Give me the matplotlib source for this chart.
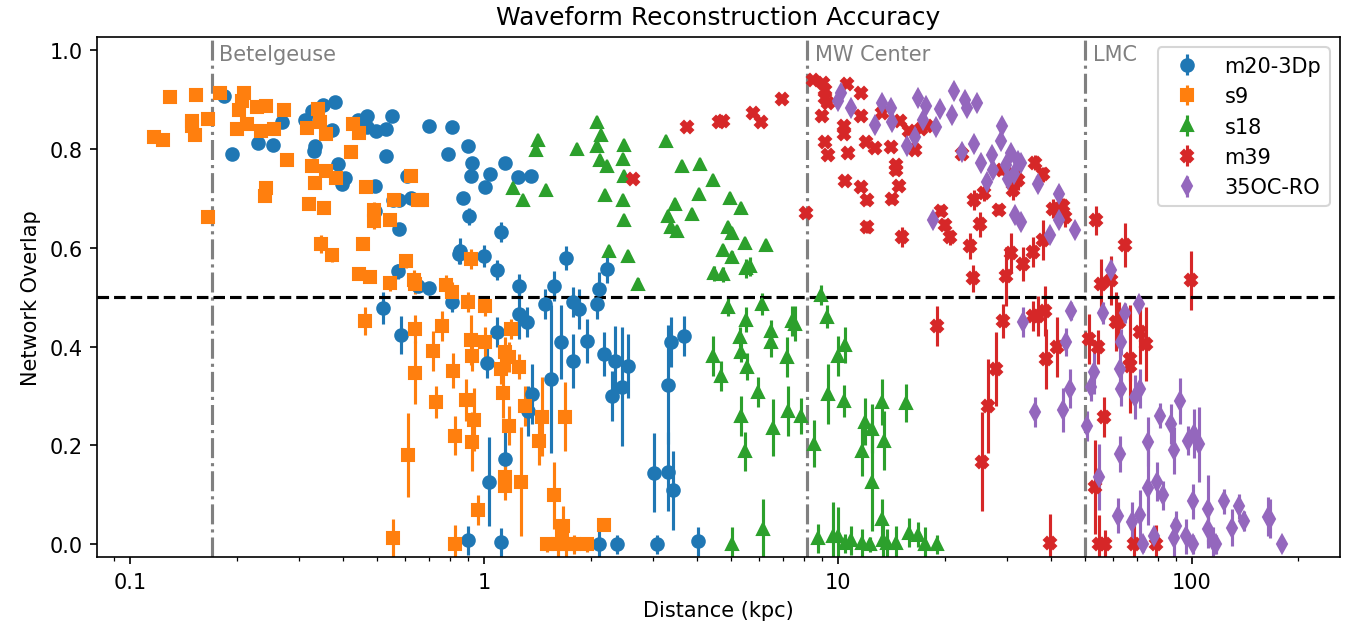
import matplotlib
matplotlib.use("Agg")
import matplotlib.pyplot as plt
from matplotlib import ticker

# m20-3Dp
m20_dist = [0.184, 0.194, 0.230, 0.253, 0.268, 0.313, 0.326, 0.352, 0.380, 0.373,
            0.334, 0.330, 0.388, 0.406, 0.398, 0.493, 0.442, 0.468, 0.466, 0.496,
            0.529, 0.551, 0.529, 0.607, 0.623, 0.493, 0.555, 0.574, 0.574, 0.570,
            0.519, 0.584,
            0.70, 0.813, 0.79, 0.90, 0.925, 0.92, 1.04, 1.01, 1.15, 1.25,
            1.36, 0.873, 0.91, 1.12, 0.856, 0.85, 1.0, 1.09, 1.70, 2.22,
            1.26, 1.58, 2.11, 0.70, 0.65,
            0.81, 1.26, 1.32, 1.49, 1.78, 1.86, 2.09, 1.09, 1.65, 1.95,
            1.78, 1.02, 2.18, 2.34, 2.56, 1.55, 1.37, 1.33, 2.30, 2.46,
            3.30, 1.15, 1.03, 3.03, 3.32, 3.41, 0.90, 1.12, 2.12, 2.37,
            3.09, 4.03, 3.68, 3.38]
m20_overlap = [0.907, 0.790, 0.812, 0.808, 0.853, 0.857, 0.877, 0.889, 0.895, 0.837,
               0.806, 0.796, 0.770, 0.740, 0.728, 0.724, 0.859, 0.867, 0.843, 0.835,
               0.839, 0.867, 0.786, 0.744, 0.700, 0.675, 0.696, 0.696, 0.637, 0.552,
               0.478, 0.423,
               0.845, 0.843, 0.790, 0.806, 0.772, 0.744, 0.748, 0.722, 0.772, 0.742,
               0.744, 0.700, 0.663, 0.631, 0.593, 0.587, 0.583, 0.554, 0.579, 0.556,
               0.522, 0.522, 0.516, 0.518, 0.522,
               0.490, 0.466, 0.450, 0.486, 0.490, 0.476, 0.486, 0.429, 0.409, 0.411,
               0.371, 0.367, 0.385, 0.371, 0.361, 0.335, 0.304, 0.270, 0.300, 0.319,
               0.323, 0.173, 0.127, 0.145, 0.147, 0.109, 0.008, 0.004, 0.0, 0.0,
               0.0, 0.006, 0.421, 0.409]
m20_err = [0.005, 0.005, 0.005, 0.005, 0.005, 0.005, 0.005, 0.005, 0.005, 0.005,
           0.005, 0.005, 0.005, 0.005, 0.005, 0.005, 0.005, 0.005, 0.005, 0.005,
           0.005, 0.005, 0.005, 0.005, 0.008, 0.01, 0.01, 0.01, 0.012, 0.015,
           0.032, 0.039,
           0.005, 0.005, 0.005, 0.005, 0.005, 0.005, 0.005, 0.005, 0.005, 0.005,
           0.005, 0.012, 0.017, 0.02, 0.027, 0.02, 0.022, 0.02, 0.024, 0.027,
           0.025, 0.03, 0.035, 0.01, 0.01,
           0.02, 0.05, 0.03, 0.03, 0.03, 0.04, 0.03, 0.03, 0.075, 0.045,
           0.055, 0.03, 0.045, 0.07, 0.065, 0.15, 0.06, 0.05, 0.05, 0.12,
           0.12, 0.06, 0.09, 0.08, 0.08, 0.08, 0.03, 0.03, 0.03, 0.02,
           0.02, 0.03, 0.04, 0.05]

# s9
s9_dist = [0.117, 0.124, 0.130, 0.150, 0.150, 0.153, 0.154, 0.166, 0.166, 0.180,
           0.210, 0.207, 0.203, 0.214, 0.200, 0.228, 0.243, 0.234, 0.256, 0.273,
           0.278, 0.243, 0.240, 0.317, 0.339, 0.345, 0.357, 0.326, 0.359, 0.383,
           0.334, 0.321, 0.354, 0.421, 0.427, 0.444, 0.465, 0.490, 0.490, 0.543,
           0.557, 0.623, 0.652, 0.347, 0.371, 0.454, 0.444, 0.476, 0.543, 0.603,
           0.635,
           0.462, 0.64, 0.64, 0.61, 0.553,
           0.762, 0.72, 0.73, 0.816, 0.89, 0.94, 0.92, 0.925, 0.90, 1.01,
           1.01, 0.826, 0.925, 1.19, 1.15, 1.18, 1.12, 1.26, 1.13, 1.31,
           1.18, 1.46, 1.43, 1.69, 1.15, 1.15, 1.27, 0.96, 1.58, 0.826,
           1.67, 1.51, 1.62, 1.71, 1.80, 1.95, 1.66, 2.19,
           0.67, 0.64, 0.78, 0.81, 0.92]
s9_overlap = [0.823, 0.817, 0.905, 0.855, 0.845, 0.827, 0.909, 0.861, 0.661, 0.913,
              0.913, 0.897, 0.879, 0.849, 0.839, 0.885, 0.887, 0.835, 0.839, 0.879,
              0.778, 0.720, 0.704, 0.841, 0.881, 0.853, 0.829, 0.764, 0.754, 0.740,
              0.730, 0.688, 0.681, 0.794, 0.849, 0.831, 0.722, 0.677, 0.653, 0.655,
              0.696, 0.744, 0.696, 0.607, 0.585, 0.607, 0.546, 0.540, 0.528, 0.573,
              0.534,
              0.452, 0.435, 0.347, 0.181, 0.012,
              0.442, 0.391, 0.288, 0.351, 0.292, 0.252, 0.413, 0.381, 0.490, 0.482,
              0.409, 0.220, 0.208, 0.435, 0.389, 0.379, 0.355, 0.359, 0.306, 0.280,
              0.240, 0.258, 0.210, 0.258, 0.137, 0.119, 0.127, 0.069, 0.099, 0.0,
              0.038, 0.0, 0.0, 0.0, 0.0, 0.0, 0.022, 0.040,
              0.696, 0.526, 0.524, 0.510, 0.577]
s9_err = [0.005, 0.005, 0.005, 0.005, 0.005, 0.005, 0.005, 0.005, 0.005, 0.005,
          0.005, 0.005, 0.005, 0.005, 0.005, 0.005, 0.005, 0.005, 0.005, 0.005,
          0.005, 0.005, 0.005, 0.005, 0.005, 0.005, 0.005, 0.005, 0.005, 0.005,
          0.005, 0.005, 0.008, 0.005, 0.005, 0.005, 0.005, 0.015, 0.015, 0.012,
          0.01, 0.005, 0.01, 0.018, 0.015, 0.012, 0.012, 0.012, 0.015, 0.015,
          0.02,
          0.028, 0.028, 0.064, 0.085, 0.04,
          0.03, 0.04, 0.033, 0.035, 0.042, 0.064, 0.05, 0.03, 0.02, 0.02,
          0.03, 0.04, 0.06, 0.02, 0.03, 0.03, 0.03, 0.025, 0.05, 0.04,
          0.04, 0.08, 0.05, 0.07, 0.03, 0.03, 0.11, 0.03, 0.067, 0.04,
          0.04, 0.015, 0.03, 0.03, 0.02, 0.015, 0.03, 0.01,
          0.01, 0.02, 0.02, 0.02, 0.02]

# s18
s18_dist = [1.42, 1.40, 1.21, 1.29, 1.50, 1.83, 2.09, 2.14, 2.09, 2.13,
            2.23, 2.48, 2.47, 2.48, 2.20, 2.47, 2.49, 3.26, 3.63, 4.08,
            4.44, 4.06, 3.47, 3.88, 3.32, 3.38, 3.52, 2.25, 2.56, 2.73,
            4.47, 4.96, 5.32, 4.90, 5.03, 5.46, 6.27, 4.74, 5.03, 4.72,
            5.50, 5.66,
            4.90, 6.11, 8.96, 9.3, 5.50, 5.29, 6.47, 6.47, 7.42, 7.56,
            4.44, 4.68, 5.32, 5.54, 5.94, 7.17, 5.32, 5.46, 6.55, 7.22,
            7.85, 10.0, 10.5, 9.4, 10.4, 8.55, 11.9, 12.5, 13.3, 13.5,
            11.7, 15.6, 12.5,
            5.03, 6.16, 8.8, 9.7, 10.0, 10.5, 10.9, 11.7, 12.3, 13.3,
            13.4, 13.8, 14.6, 15.9, 16.8, 17.6, 19.1]
s18_overlap = [0.817, 0.798, 0.720, 0.696, 0.716, 0.800, 0.853, 0.827, 0.806, 0.778,
               0.766, 0.808, 0.780, 0.744, 0.706, 0.696, 0.655, 0.815, 0.764, 0.770,
               0.736, 0.708, 0.688, 0.667, 0.663, 0.641, 0.633, 0.593, 0.583, 0.526,
               0.548, 0.700, 0.681, 0.641, 0.629, 0.609, 0.605, 0.595, 0.581, 0.546,
               0.558, 0.562,
               0.480, 0.486, 0.504, 0.460, 0.454, 0.419, 0.431, 0.409, 0.452, 0.446,
               0.381, 0.341, 0.389, 0.359, 0.308, 0.379, 0.260, 0.188, 0.236, 0.270,
               0.260, 0.381, 0.403, 0.304, 0.290, 0.204, 0.248, 0.234, 0.288, 0.210,
               0.188, 0.286, 0.127,
               0.0, 0.032, 0.012, 0.016, 0.016, 0.002, 0.008, 0.002, 0.0, 0.052,
               0.008, 0.002, 0.002, 0.024, 0.020, 0.0, 0.0]
s18_err = [0.005, 0.005, 0.005, 0.005, 0.005, 0.005, 0.005, 0.005, 0.005, 0.005,
           0.005, 0.005, 0.01, 0.005, 0.005, 0.005, 0.008, 0.005, 0.005, 0.005,
           0.005, 0.005, 0.005, 0.008, 0.008, 0.01, 0.01, 0.01, 0.01, 0.012,
           0.015, 0.005, 0.005, 0.008, 0.008, 0.008, 0.008, 0.01, 0.012, 0.015,
           0.02, 0.02,
           0.018, 0.023, 0.02, 0.023, 0.025, 0.02, 0.023, 0.03, 0.03, 0.035,
           0.04, 0.03, 0.02, 0.027, 0.03, 0.04, 0.04, 0.04, 0.057, 0.05,
           0.037, 0.04, 0.037, 0.06, 0.032, 0.048, 0.048, 0.05, 0.047, 0.06,
           0.05, 0.038, 0.1,
           0.035, 0.06, 0.03, 0.07, 0.06, 0.02, 0.03, 0.03, 0.015, 0.04,
           0.035, 0.03, 0.035, 0.03, 0.025, 0.035, 0.02]

# m39
m39_dist = [3.75, 2.63, 4.62, 4.72, 5.77, 6.06, 6.97, 8.10, 8.49, 9.06,
            9.2, 9.2, 9.4, 10.6, 11.6, 11.6, 9.0, 10.4, 10.4, 9.2,
            9.4, 10.7, 12.0, 12.7, 14.1, 13.3, 15.0, 15.9, 17.2, 17.9,
            16.5, 14.6, 14.6, 10.5, 11.6, 12.1, 14.9, 14.2, 12.1, 15.2,
            22.4, 19.5, 20.0, 20.7, 24.2, 25.9, 25.2, 28.5, 23.6, 24.0,
            30.8, 33.4, 29.9, 31.3, 31.3, 29.0,
            36.1, 38.0, 32.3, 40.5, 43.2, 43.8, 38.0, 35.6, 53.6, 64.7,
            55.4, 59.1, 99.4,
            19.0, 29.3, 27.9, 26.5, 25.5,
            35.6, 36.8, 38.5, 41.5, 38.8, 39.8, 51.2, 54.4, 60.9, 62.1,
            66.9, 66.9, 71.4, 74.2, 56.6, 53.3, 54.7, 56.9, 68.6, 78.9]
m39_overlap = [0.843, 0.738, 0.853, 0.855, 0.873, 0.853, 0.901, 0.669, 0.938, 0.933,
               0.919, 0.903, 0.893, 0.931, 0.913, 0.867, 0.867, 0.845, 0.829, 0.813,
               0.788, 0.792, 0.813, 0.802, 0.804, 0.873, 0.855, 0.835, 0.839, 0.845,
               0.798, 0.768, 0.756, 0.734, 0.722, 0.696, 0.724, 0.698, 0.641, 0.621,
               0.790, 0.675, 0.645, 0.621, 0.696, 0.710, 0.647, 0.677, 0.603, 0.538,
               0.589, 0.567, 0.542, 0.748, 0.716, 0.756,
               0.772, 0.748, 0.736, 0.679, 0.685, 0.661, 0.615, 0.591, 0.655, 0.605,
               0.526, 0.534, 0.534,
               0.442, 0.452, 0.355, 0.280, 0.167,
               0.462, 0.462, 0.472, 0.399, 0.375, 0.002, 0.415, 0.399, 0.450, 0.450,
               0.375, 0.361, 0.429, 0.405, 0.258, 0.117, 0.0, 0.0, 0.0, 0.0]
m39_err = [0.005, 0.005, 0.005, 0.005, 0.005, 0.005, 0.005, 0.01, 0.005, 0.005,
           0.005, 0.005, 0.005, 0.005, 0.005, 0.005, 0.005, 0.005, 0.005, 0.005,
           0.005, 0.005, 0.005, 0.005, 0.005, 0.005, 0.005, 0.005, 0.005, 0.005,
           0.005, 0.01, 0.01, 0.005, 0.008, 0.01, 0.008, 0.01, 0.012, 0.02,
           0.008, 0.012, 0.012, 0.015, 0.02, 0.015, 0.025, 0.012, 0.027, 0.027,
           0.04, 0.035, 0.06, 0.01, 0.02, 0.01,
           0.015, 0.015, 0.02, 0.02, 0.015, 0.02, 0.04, 0.03, 0.03, 0.045,
           0.05, 0.05, 0.06,
           0.04, 0.035, 0.075, 0.095, 0.1,
           0.03, 0.04, 0.05, 0.06, 0.06, 0.06, 0.05, 0.035, 0.06, 0.04,
           0.11, 0.03, 0.065, 0.075, 0.04, 0.095, 0.06, 0.03, 0.04, 0.04]

# 35OC-RO
oc_dist = [10.2, 10.0, 10.9, 12.7, 13.3, 14.1, 14.2, 15.7, 16.5, 16.8,
           17.7, 17.4, 18.9, 19.4, 21.0, 21.3, 22.9, 23.2, 24.7, 22.4,
           24.3, 25.4, 27.3, 27.5, 26.4, 29.0, 28.8, 30.8, 29.9, 32.3,
           31.5, 30.3, 31.7, 32.9, 18.6,
           32.9, 36.8, 42.2, 42.2, 39.8, 46.6, 59.1, 33.4,
           45.6, 44.0, 36.1, 43.2, 45.3, 56.0, 64.7, 70.8, 63.2, 52.9,
           51.9, 62.7, 63.2, 68.9, 71.4, 50.6, 62.7, 54.7, 75.2, 75.2,
           81.5, 87.3, 92.6, 88.9, 97.6, 101.6, 105.0, 79.5, 83.1, 100.7,
           111.0, 111.0, 123.0, 136.0, 140.0, 130.0, 164.0, 166.0, 180.0, 61.7,
           67.5, 71.4, 72.9, 78.3, 88.9, 90.3, 96.4, 100.9, 115.0, 117.0]
oc_overlap = [0.913, 0.897, 0.883, 0.847, 0.893, 0.883, 0.853, 0.806, 0.823, 0.903,
              0.887, 0.859, 0.843, 0.881, 0.869, 0.917, 0.899, 0.883, 0.893, 0.794,
              0.810, 0.772, 0.788, 0.756, 0.732, 0.845, 0.815, 0.792, 0.768, 0.776,
              0.748, 0.738, 0.665, 0.651, 0.655,
              0.772, 0.728, 0.708, 0.655, 0.625, 0.635, 0.554, 0.450,
              0.472, 0.409, 0.268, 0.272, 0.315, 0.468, 0.468, 0.486, 0.409, 0.349,
              0.319, 0.355, 0.315, 0.298, 0.315, 0.240, 0.183, 0.137, 0.208, 0.115,
              0.260, 0.244, 0.290, 0.190, 0.210, 0.224, 0.202, 0.127, 0.099, 0.087,
              0.071, 0.032, 0.087, 0.077, 0.048, 0.034, 0.056, 0.052, 0.0, 0.058,
              0.046, 0.060, 0.0, 0.016, 0.012, 0.038, 0.016, 0.0, 0.006, 0.0]
oc_err = [0.005, 0.005, 0.005, 0.005, 0.005, 0.005, 0.005, 0.005, 0.005, 0.005,
          0.005, 0.005, 0.005, 0.005, 0.005, 0.005, 0.005, 0.005, 0.005, 0.005,
          0.005, 0.005, 0.005, 0.005, 0.005, 0.005, 0.005, 0.005, 0.005, 0.005,
          0.005, 0.005, 0.008, 0.008, 0.008,
          0.008, 0.008, 0.008, 0.01, 0.012, 0.01, 0.02, 0.03,
          0.018, 0.028, 0.03, 0.045, 0.04, 0.023, 0.02, 0.015, 0.027, 0.045,
          0.03, 0.05, 0.035, 0.045, 0.04, 0.03, 0.037, 0.067, 0.05, 0.075,
          0.025, 0.04, 0.047, 0.047, 0.03, 0.05, 0.075, 0.04, 0.03, 0.035,
          0.07, 0.04, 0.025, 0.025, 0.02, 0.037, 0.04, 0.04, 0.01, 0.035,
          0.04, 0.05, 0.015, 0.02, 0.04, 0.03, 0.035, 0.02, 0.03, 0.02]

series = [
    ("m20-3Dp", "o", m20_dist, m20_overlap, m20_err),
    ("s9", "s", s9_dist, s9_overlap, s9_err),
    ("s18", "^", s18_dist, s18_overlap, s18_err),
    ("m39", "X", m39_dist, m39_overlap, m39_err),
    ("35OC-RO", "d", oc_dist, oc_overlap, oc_err),
]

landmarks = [("Betelgeuse", 0.17), ("MW Center", 8.2), ("LMC", 50.0)]
threshold = 0.5

fig, ax = plt.subplots(figsize=(9.02, 4.153), dpi=150)
fig.subplots_adjust(left=0.0717, right=0.9904, bottom=0.1043, top=0.939)

for label, marker, dist, overlap, err in series:
    ax.errorbar(dist, overlap, yerr=err, fmt=marker, linestyle="none",
                markersize=6, label=label)

for name, dist in landmarks:
    ax.axvline(dist, color="gray", linestyle="-.", linewidth=1.5)
    ax.text(dist * 1.05, 0.98, name, color="gray", fontsize=10, va="baseline")

ax.axhline(threshold, color="k", linestyle="--", linewidth=1.5)

ax.set_xscale("log")
ax.set_xlim(0.0807, 262)
ax.set_ylim(-0.0255, 1.0257)
ax.xaxis.set_major_formatter(ticker.FuncFormatter(lambda v, _: f"{v:g}"))
ax.xaxis.set_minor_formatter(ticker.NullFormatter())
ax.set_xlabel("Distance (kpc)")
ax.set_ylabel("Network Overlap")
ax.set_title("Waveform Reconstruction Accuracy")
ax.legend(loc="upper right")

fig.savefig("out.png", dpi=150)
